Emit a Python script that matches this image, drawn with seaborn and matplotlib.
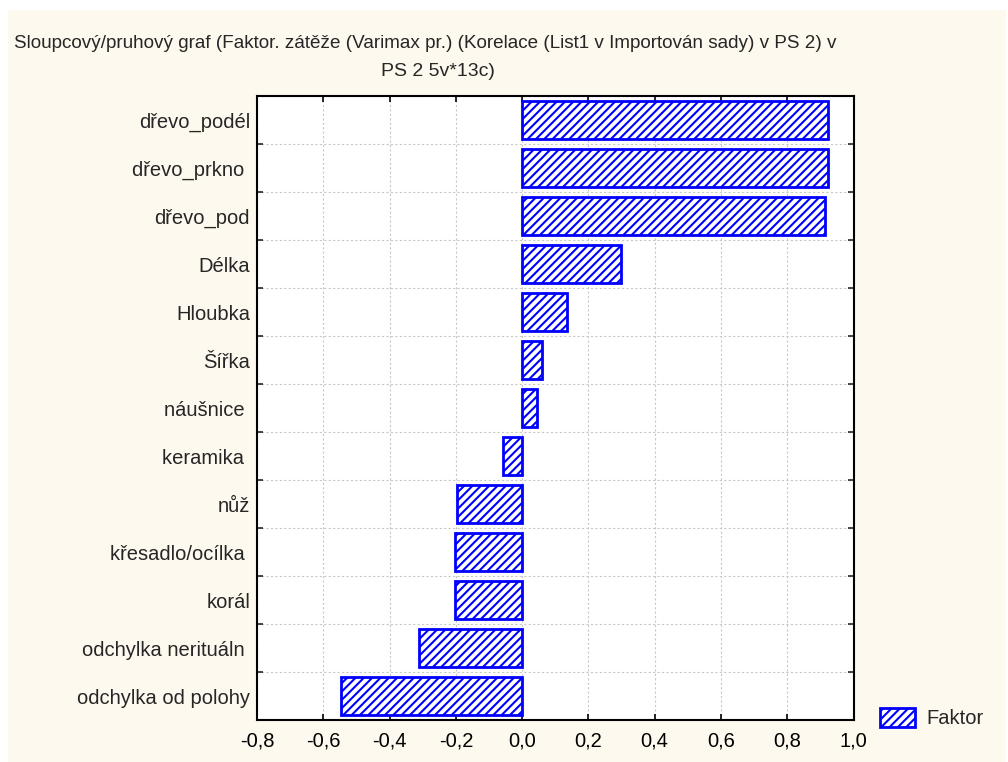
import matplotlib
matplotlib.use("Agg")
import matplotlib.pyplot as plt
from matplotlib.patches import Rectangle, Patch
import numpy as np
import pandas as pd
import seaborn as sns

# data (trailing spaces as in the source labels)
variables = ["dřevo_podél", "dřevo_prkno ", "dřevo_pod", "Délka", "Hloubka", "Šířka",
             "náušnice ", "keramika ", "nůž", "křesadlo/ocílka ", "korál",
             "odchylka neritu\u00e1ln ", "odchylka od polohy"]
loadings = [0.924, 0.924, 0.913, 0.298, 0.135, 0.060, 0.045,
            -0.057, -0.197, -0.203, -0.203, -0.310, -0.546]
x_ticks = [-0.8, -0.6, -0.4, -0.2, 0.0, 0.2, 0.4, 0.6, 0.8, 1.0]
x_tick_labels = ["-0,8", "-0,6", "-0,4", "-0,2", "0,0", "0,2", "0,4", "0,6", "0,8", "1,0"]
title_line1 = "Sloupcový/pruhový graf (Faktor. zátěže (Varimax pr.) (Korelace (List1 v Importován sady) v PS 2) v"
title_line2 = "PS 2 5v*13c)"
legend_label = "Faktor"

df = pd.DataFrame({"var": variables, "val": loadings})

sns.set_style("white")
plt.rcParams["font.family"] = ["Liberation Sans", "DejaVu Sans"]
plt.rcParams["hatch.linewidth"] = 1.5
plt.rcParams["hatch.color"] = "#0000FF"

FS = 14.5
W, H = 1008, 762
fig = plt.figure(figsize=(W / 100, H / 100), dpi=100, facecolor="white")

# cream background with thin white margin top/left
fig.patches.append(Rectangle((8 / W, 0), (1006 - 8) / W, (H - 10) / H,
                             transform=fig.transFigure, facecolor="#FEF9EE",
                             edgecolor="none", zorder=-10))

ax = fig.add_axes([257 / W, 1 - 720 / H, (853.5 - 257) / W, (720 - 96) / H])
ax.set_facecolor("white")

sns.barplot(data=df, x="val", y="var", orient="h", ax=ax, color="white",
            saturation=1, width=0.8, edgecolor="#0000FF", linewidth=2.0,
            hatch="////", zorder=3)

ax.set_xlim(-0.8, 1.0)
ax.set_ylim(12.5, -0.5)
ax.set_xticks(x_ticks)
ax.set_xticklabels(x_tick_labels, fontsize=FS)
ax.set_yticks(range(len(variables)))
ax.set_yticklabels(variables, fontsize=FS)
ax.set_yticks(np.arange(-0.5, len(variables), 1.0), minor=True)
ax.set_xlabel("")
ax.set_ylabel("")

ax.tick_params(axis="x", which="major", direction="in", top=True, bottom=True,
               length=4, width=1.2, pad=8, colors="black")
ax.tick_params(axis="y", which="major", length=0, pad=5)
ax.tick_params(axis="y", which="minor", direction="in", left=True, right=True,
               length=4, width=1.2)

ax.grid(axis="x", which="major", color="#C8C8C8", linestyle=(0, (2, 2)), linewidth=0.8, zorder=0)
ax.grid(axis="y", which="minor", color="#C8C8C8", linestyle=(0, (2, 2)), linewidth=0.8, zorder=0)
ax.set_axisbelow(True)

for s in ax.spines.values():
    s.set_visible(True)
    s.set_color("black")
    s.set_linewidth(1.5)

# title: kept fully inside the figure
fig.text(836 / W, 1 - 43 / H, title_line1, ha="right", va="center", fontsize=13.6)
fig.text(438 / W, 1 - 71 / H, title_line2, ha="center", va="center", fontsize=14)

handle = Patch(facecolor="white", edgecolor="#0000FF", hatch="////", linewidth=2.0)
fig.legend([handle], [legend_label], loc="center left",
           bbox_to_anchor=(880 / W, 1 - 718 / H), frameon=False, fontsize=FS,
           handlelength=1.75, handleheight=1.05, handletextpad=0.55, borderpad=0,
           borderaxespad=0)

fig.savefig("out.png", dpi=100, facecolor=fig.get_facecolor())
